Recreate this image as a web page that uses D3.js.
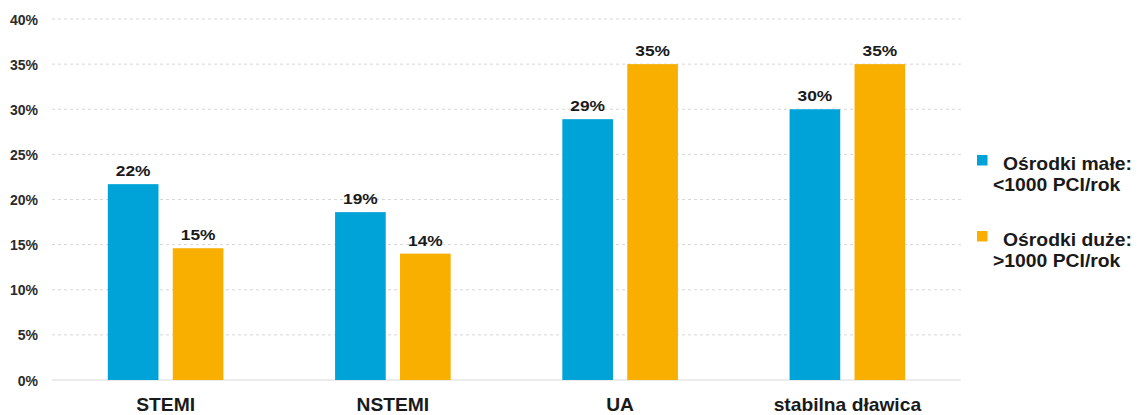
<!DOCTYPE html>
<html>
<head>
<meta charset="utf-8">
<script src="https://cdn.jsdelivr.net/npm/d3@7"></script>
<style>
  html, body { margin: 0; padding: 0; background: #ffffff; }
  svg { display: block; font-family: "Liberation Sans", Arial, sans-serif; }
</style>
</head>
<body>
<svg id="chart" width="1145" height="415"></svg>
<script>
const categories = ["STEMI", "NSTEMI", "UA", "stabilna dławica"];
const seriesNames = ["Ośrodki małe:", "Ośrodki duże:"];
const seriesSub = ["<1000 PCI/rok", ">1000 PCI/rok"];
const smallCenters = [21.7, 18.6, 28.9, 30.0];
const largeCenters = [14.6, 14.0, 35.0, 35.0];
const yTicks = [0, 5, 10, 15, 20, 25, 30, 35, 40];
const colors = ["#00A3D7", "#F8AF00"];

(function () {
const svg = d3.select("#chart");
const plotLeft = 52, plotRight = 961, plotTop = 19, plotBottom = 380;

const y = d3.scaleLinear().domain([0, 40]).range([plotBottom, plotTop]);
const pad = 1 - 115.6 / ((plotRight - plotLeft) / categories.length);
const x0 = d3.scaleBand().domain(categories).range([plotLeft, plotRight])
  .paddingInner(pad).paddingOuter(pad / 2);
const x1 = d3.scaleBand().domain([0, 1]).range([0, x0.bandwidth()])
  .paddingInner(0.22).paddingOuter(0);

// gridlines
svg.append("g").selectAll("line")
  .data(yTicks.filter(d => d > 0))
  .join("line")
  .attr("x1", plotLeft).attr("x2", plotRight)
  .attr("y1", d => y(d)).attr("y2", d => y(d))
  .attr("stroke", "#d6d6d6").attr("stroke-width", 1)
  .attr("stroke-dasharray", "3,3");

// baseline
svg.append("line")
  .attr("x1", plotLeft).attr("x2", plotRight)
  .attr("y1", y(0)).attr("y2", y(0))
  .attr("stroke", "#d9d9d9").attr("stroke-width", 1);

// y axis labels
const yAxis = d3.axisLeft(y).tickValues(yTicks).tickFormat(d => d + "%").tickSize(0).tickPadding(0);
const ga = svg.append("g").attr("transform", "translate(38,0)").call(yAxis);
ga.select(".domain").remove();
ga.selectAll("text")
  .attr("font-family", "'Liberation Sans', Arial, sans-serif")
  .attr("font-size", "14px").attr("font-weight", "bold").attr("fill", "#2b2b2b")
  .attr("dy", "0.36em");

// bars
const data = categories.map((c, i) => ({ c, vals: [smallCenters[i], largeCenters[i]] }));
const groups = svg.append("g").selectAll("g")
  .data(data).join("g")
  .attr("transform", d => `translate(${x0(d.c)},0)`);

groups.selectAll("rect")
  .data(d => d.vals.map((v, k) => ({ v, k })))
  .join("rect")
  .attr("x", d => x1(d.k))
  .attr("width", x1.bandwidth())
  .attr("y", d => y(d.v))
  .attr("height", d => y(0) - y(d.v))
  .attr("fill", d => colors[d.k]);

groups.selectAll("text.val")
  .data(d => d.vals.map((v, k) => ({ v, k })))
  .join("text")
  .attr("class", "val")
  .attr("transform", d => `translate(${x1(d.k) + x1.bandwidth() / 2},${y(d.v) - 8}) scale(1.12,1)`)
  .attr("text-anchor", "middle")
  .attr("font-size", "15.5px").attr("font-weight", "bold")
  .attr("fill", "#1a1a1a")
  .text(d => Math.round(d.v) + "%");

// x axis labels
const xAxis = d3.axisBottom(x0).tickSize(0).tickPadding(0);
const gx = svg.append("g").attr("transform", `translate(0,${plotBottom})`).call(xAxis);
gx.select(".domain").remove();
gx.selectAll(".tick").each(function () {
  const t = d3.select(this).select("text");
  t.attr("font-family", "'Liberation Sans', Arial, sans-serif")
    .attr("font-size", "18.5px").attr("font-weight", "bold").attr("fill", "#1a1a1a")
    .attr("dy", 0).attr("y", 0)
    .attr("transform", "translate(0,31) scale(1.04,1)");
});

// legend
const legend = svg.append("g");
seriesNames.forEach((name, i) => {
  const oy = 155 + i * 76;
  legend.append("rect").attr("x", 977).attr("y", oy).attr("width", 10.5).attr("height", 10.5).attr("fill", colors[i]);
  legend.append("text").attr("transform", `translate(1003,${oy + 14.5}) scale(1.075,1)`)
    .attr("font-size", "18px").attr("font-weight", "bold")
    .attr("fill", "#1a1a1a").text(name);
  legend.append("text").attr("transform", `translate(993,${oy + 36}) scale(1.075,1)`)
    .attr("font-size", "18px").attr("font-weight", "bold")
    .attr("fill", "#1a1a1a").text(seriesSub[i]);
});
})();
</script>
</body>
</html>
